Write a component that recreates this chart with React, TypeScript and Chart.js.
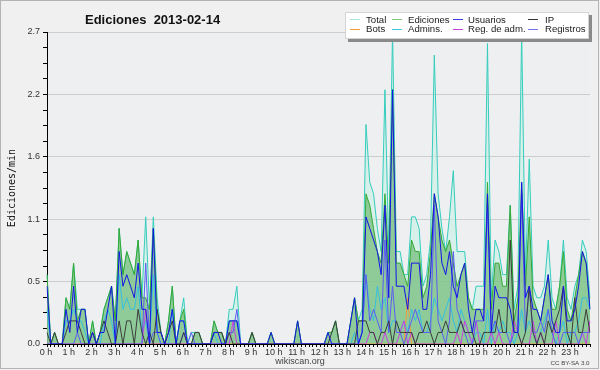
import React, { useEffect, useRef } from 'react';
import { Chart, registerables } from 'chart.js';

Chart.register(...registerables);

const chartTitle = 'Ediciones  2013-02-14';
const yAxisTitle = 'Ediciones/min';
const hourLabels = ['0 h','1 h','2 h','3 h','4 h','5 h','6 h','7 h','8 h','9 h','10 h','11 h','12 h','13 h','14 h','15 h','16 h','17 h','18 h','19 h','20 h','21 h','22 h','23 h'];
const slotMinutes = ['00','10','20','30','40','50'];
const yTickLabels = ['0.0','0.5','1.1','1.6','2.2','2.7'];
const yMax = 2.7;
const seriesNames = ['Total','Ediciones','Usuarios','IP','Bots','Admins.','Reg. de adm.','Registros'];

const total = [
  0.6,0.0,0.1,0.0,0.0,0.4, 0.3,0.7,0.3,0.3,0.3,0.0, 0.2,0.0,0.1,0.3,0.4,0.5, 0.2,1.0,0.6,0.8,0.7,0.6,
  0.9,0.4,1.1,0.3,1.1,0.4, 0.1,0.0,0.2,0.5,0.0,0.2, 0.4,0.0,0.1,0.1,0.1,0.0, 0.0,0.0,0.2,0.1,0.1,0.0,
  0.3,0.3,0.5,0.0,0.0,0.0, 0.1,0.0,0.0,0.0,0.0,0.1, 0.0,0.0,0.0,0.0,0.0,0.0, 0.2,0.0,0.0,0.0,0.0,0.0,
  0.0,0.0,0.1,0.1,0.2,0.0, 0.0,0.0,0.2,0.4,0.2,0.3, 1.9,1.4,1.3,1.0,0.8,2.2, 0.8,2.7,0.8,0.8,0.6,0.6,
  1.1,1.1,1.0,0.5,0.6,0.9, 2.5,1.3,1.0,0.8,1.1,1.5, 0.8,0.8,0.8,0.4,0.3,0.5, 0.5,0.5,2.6,0.4,0.9,0.8,
  0.6,0.6,1.2,0.3,0.5,2.7, 0.6,1.6,0.5,0.4,0.4,0.5, 0.9,0.4,0.3,0.5,0.9,0.4, 0.3,0.5,0.6,0.9,0.8,0.4,
];
const ediciones = [
  0.6,0.0,0.1,0.0,0.0,0.4, 0.3,0.7,0.2,0.3,0.3,0.0, 0.2,0.0,0.1,0.3,0.4,0.5, 0.2,1.0,0.6,0.8,0.7,0.6,
  0.9,0.4,0.4,0.3,1.0,0.3, 0.1,0.0,0.2,0.5,0.0,0.2, 0.3,0.0,0.0,0.1,0.1,0.0, 0.0,0.0,0.2,0.1,0.1,0.0,
  0.2,0.2,0.2,0.0,0.0,0.0, 0.1,0.0,0.0,0.0,0.0,0.1, 0.0,0.0,0.0,0.0,0.0,0.0, 0.2,0.0,0.0,0.0,0.0,0.0,
  0.0,0.0,0.1,0.1,0.2,0.0, 0.0,0.0,0.2,0.4,0.2,0.2, 1.3,1.2,1.0,0.8,0.7,1.3, 0.7,2.2,0.7,0.7,0.6,0.5,
  0.9,0.8,0.8,0.4,0.5,0.8, 1.3,1.1,0.9,0.8,0.9,0.7, 0.5,0.6,0.7,0.4,0.3,0.3, 0.3,0.3,1.4,0.3,0.7,0.7,
  0.5,0.5,1.2,0.2,0.4,1.4, 0.5,1.1,0.4,0.3,0.2,0.4, 0.6,0.3,0.3,0.5,0.8,0.3, 0.2,0.4,0.6,0.8,0.7,0.3,
];
const usuarios = [
  0.5,0.0,0.0,0.0,0.0,0.3, 0.1,0.5,0.1,0.3,0.3,0.0, 0.1,0.0,0.1,0.1,0.3,0.5, 0.0,0.8,0.5,0.6,0.5,0.4,
  0.7,0.3,0.3,0.0,1.0,0.1, 0.1,0.0,0.1,0.3,0.0,0.2, 0.2,0.0,0.0,0.0,0.0,0.0, 0.0,0.0,0.1,0.1,0.0,0.0,
  0.2,0.2,0.2,0.0,0.0,0.0, 0.0,0.0,0.0,0.0,0.0,0.1, 0.0,0.0,0.0,0.0,0.0,0.0, 0.2,0.0,0.0,0.0,0.0,0.0,
  0.0,0.0,0.1,0.0,0.0,0.0, 0.0,0.0,0.2,0.4,0.0,0.1, 1.1,1.0,0.9,0.8,0.6,1.2, 0.4,2.2,0.5,0.5,0.5,0.3,
  0.7,0.7,0.7,0.3,0.3,0.6, 1.3,1.1,0.7,0.6,0.8,0.5, 0.4,0.6,0.7,0.3,0.1,0.3, 0.3,0.2,1.3,0.1,0.5,0.4,
  0.4,0.4,0.3,0.1,0.1,1.4, 0.4,0.5,0.3,0.3,0.2,0.4, 0.6,0.2,0.1,0.1,0.5,0.2, 0.2,0.3,0.5,0.8,0.7,0.3,
];
const ip = [
  0.1,0.0,0.1,0.0,0.0,0.1, 0.2,0.2,0.2,0.1,0.0,0.0, 0.1,0.0,0.1,0.2,0.1,0.0, 0.0,0.2,0.0,0.2,0.2,0.0,
  0.3,0.1,0.0,0.1,0.0,0.3, 0.1,0.0,0.1,0.2,0.0,0.0, 0.1,0.0,0.0,0.1,0.1,0.0, 0.0,0.0,0.1,0.1,0.1,0.0,
  0.1,0.0,0.0,0.0,0.0,0.0, 0.1,0.0,0.0,0.0,0.0,0.0, 0.0,0.0,0.0,0.0,0.0,0.0, 0.0,0.0,0.0,0.0,0.0,0.0,
  0.0,0.0,0.0,0.1,0.2,0.0, 0.0,0.0,0.0,0.0,0.2,0.2, 0.2,0.1,0.1,0.0,0.1,0.1, 0.2,0.0,0.2,0.1,0.1,0.1,
  0.1,0.0,0.1,0.1,0.2,0.1, 0.0,0.1,0.1,0.2,0.1,0.1, 0.1,0.2,0.1,0.1,0.1,0.0, 0.0,0.1,0.1,0.1,0.1,0.3,
  0.1,0.1,0.9,0.1,0.1,0.0, 0.1,0.5,0.1,0.0,0.1,0.0, 0.2,0.1,0.2,0.3,0.5,0.1, 0.0,0.4,0.1,0.1,0.3,0.1,
];
const bots = [
  0,0,0,0,0,0, 0,0,0,0,0,0, 0,0,0,0,0,0, 0,0,0,0,0,0,
  0,0,0,0,0,0, 0,0,0,0,0,0, 0,0,0,0,0,0, 0,0,0,0,0,0,
  0,0,0,0,0,0, 0,0,0,0,0,0, 0,0,0,0,0,0, 0,0,0,0,0,0,
  0,0,0,0,0,0, 0,0,0,0,0,0, 0,0,0,0,0,0, 0,0,0,0,0,0.4,
  0,0,0,0,0,0, 0,0,0,0,0,0, 0,0,0,0,0,0, 0,0,0,0,0,0,
  0,0,0,0,0,0, 0,0,0,0,0,0, 0,0,0,0,0,0, 0,0,0,0,0,0,
];
const admins = [
  0.3,0.0,0.0,0.0,0.0,0.2, 0.2,0.3,0.2,0.2,0.1,0.0, 0.0,0.0,0.0,0.2,0.3,0.2, 0.0,0.6,0.3,0.4,0.3,0.3,
  0.5,0.1,0.2,0.0,0.6,0.1, 0.0,0.0,0.0,0.3,0.0,0.2, 0.2,0.0,0.0,0.0,0.0,0.0, 0.0,0.0,0.1,0.0,0.0,0.0,
  0.2,0.2,0.2,0.0,0.0,0.0, 0.0,0.0,0.0,0.0,0.0,0.0, 0.0,0.0,0.0,0.0,0.0,0.0, 0.0,0.0,0.0,0.0,0.0,0.0,
  0.0,0.0,0.0,0.0,0.0,0.0, 0.0,0.0,0.0,0.1,0.0,0.1, 0.6,0.3,0.2,0.5,0.3,0.4, 0.1,0.2,0.2,0.1,0.2,0.1,
  0.3,0.2,0.3,0.1,0.1,0.2, 0.4,0.3,0.2,0.3,0.4,0.2, 0.1,0.3,0.2,0.1,0.0,0.1, 0.1,0.0,0.3,0.0,0.2,0.1,
  0.2,0.1,0.1,0.0,0.1,0.3, 0.1,0.2,0.1,0.0,0.1,0.2, 0.3,0.1,0.0,0.1,0.2,0.0, 0.1,0.1,0.2,0.4,0.4,0.3,
];
const regAdm = [
  0,0,0,0,0,0, 0,0,0,0,0,0, 0,0,0,0,0,0, 0,0,0,0,0,0,
  0,0,0.3,0,0,0, 0,0,0,0,0,0, 0,0,0,0,0,0, 0,0,0,0,0,0,
  0,0.2,0,0,0,0, 0,0,0,0,0,0, 0,0,0,0,0,0, 0,0,0,0,0,0,
  0,0,0,0,0,0, 0,0,0,0,0,0, 0,0.1,0.1,0,0,0.1, 0,0,0,0.1,0.2,0,
  0.1,0,0,0,0,0, 0,0,0,0,0,0, 0.1,0,0.2,0.1,0,0.2, 0,0,0,0.1,0,0.1,
  0,0,0,0.2,0.1,0, 0,0,0.2,0,0.1,0, 0,0,0.2,0,0,0, 0,0,0,0.1,0,0.2,
];
const registros = [
  0,0,0,0,0,0, 0,0,0.1,0,0,0, 0,0,0,0,0,0, 0,0,0,0,0,0,
  0,0,0.7,0,0.1,0.1, 0,0,0,0,0,0, 0.1,0,0.1,0,0,0, 0,0,0,0,0,0,
  0.1,0.1,0.3,0,0,0, 0,0,0,0,0,0, 0,0,0,0,0,0, 0,0,0,0,0,0,
  0,0,0,0,0,0, 0,0,0,0,0,0.1, 0.6,0.2,0.3,0.2,0.1,0.9, 0.1,0.5,0.1,0.1,0.0,0.1,
  0.2,0.3,0.2,0.1,0.1,0.1, 1.2,0.2,0.1,0.0,0.2,0.8, 0.3,0.2,0.1,0.0,0.0,0.2, 0.2,0.2,1.2,0.1,0.2,0.1,
  0.1,0.1,0.0,0.1,0.1,1.3, 0.1,0.5,0.1,0.1,0.2,0.1, 0.3,0.1,0.0,0.0,0.1,0.1, 0.1,0.1,0.0,0.1,0.1,0.1,
];

const slotLabels = hourLabels.flatMap((h) => slotMinutes.map((m) => h.replace(' h', '') + ':' + m));
const yTickValues = Array.from({ length: 21 }, (_, k) => (k * yMax) / 20);

const SANS = '"Liberation Sans", Arial, sans-serif';

const colors = {
  total: '#35cdbd',
  ediciones: '#35a935',
  usuarios: '#1414e6',
  ip: '#3c3c3c',
  bots: '#f39a3a',
  admins: '#35bfe0',
  regAdm: '#cc40dd',
  registros: '#5c5cf2',
};
const legendColors = ['#a4e6dc', '#7acc7a', '#3a3aee', '#333333', '#f39a3a', '#45c6e2', '#cc40dd', '#7272ee'];

const decorPlugin = {
  id: 'decor',
  beforeDraw(chart: any) {
    const { ctx, chartArea: a, width, height } = chart;
    ctx.save();
    ctx.fillStyle = '#f0f0f0';
    ctx.fillRect(0, 0, width, height);
    ctx.fillStyle = '#edeff1';
    ctx.fillRect(a.left, a.top, a.right - a.left, a.bottom - a.top);
    ctx.strokeStyle = '#b4b4b4';
    ctx.lineWidth = 1;
    ctx.strokeRect(0.5, 0.5, 598, 368);
    ctx.restore();
  },
  afterDraw(chart: any) {
    const { ctx, chartArea: a } = chart;
    ctx.save();
    // title
    ctx.fillStyle = '#111';
    ctx.font = 'bold 13px ' + SANS;
    ctx.textAlign = 'left';
    ctx.textBaseline = 'alphabetic';
    ctx.fillText(chartTitle, 85, 23.5);
    // y title
    ctx.save();
    ctx.translate(15, (a.top + a.bottom) / 2);
    ctx.rotate(-Math.PI / 2);
    ctx.font = '10px "DejaVu Sans Mono", monospace';
    ctx.textAlign = 'center';
    ctx.fillStyle = '#111';
    ctx.fillText(yAxisTitle, 0, 0);
    ctx.restore();
    // legend box
    ctx.fillStyle = '#8a8a8a';
    ctx.fillRect(348, 15, 244, 27);
    ctx.fillStyle = '#ffffff';
    ctx.fillRect(345, 12, 244, 27);
    ctx.strokeStyle = '#d4d4d4';
    ctx.strokeRect(345.5, 12.5, 243, 26);
    const sampleX = [350, 392, 453, 528];
    const textX = [366, 408, 468, 545];
    const rowY = [19, 28.6];
    ctx.font = '9.6px ' + SANS;
    ctx.textBaseline = 'alphabetic';
    seriesNames.forEach((name, k) => {
      const col = k % 4;
      const row = Math.floor(k / 4);
      const y = rowY[row];
      ctx.strokeStyle = legendColors[k];
      ctx.lineWidth = 1;
      ctx.beginPath();
      ctx.moveTo(sampleX[col], Math.round(y) + 0.5);
      ctx.lineTo(sampleX[col] + 10, Math.round(y) + 0.5);
      ctx.stroke();
      ctx.fillStyle = '#222';
      ctx.fillText(name, textX[col], y + 3.6);
    });
    // footer
    ctx.fillStyle = '#444';
    ctx.font = '9px ' + SANS;
    ctx.textAlign = 'center';
    ctx.fillText('wikiscan.org', 300, 364);
    ctx.font = '6.2px ' + SANS;
    ctx.textAlign = 'right';
    ctx.fillText('CC BY-SA 3.0', 589.5, 365);
    ctx.restore();
  },
};

function line(label: string, data: number[], color: string, order: number, extra: any = {}) {
  return {
    label,
    data,
    borderColor: color,
    backgroundColor: color,
    borderWidth: 1,
    pointRadius: 0,
    pointHoverRadius: 0,
    tension: 0,
    fill: false,
    order,
    ...extra,
  };
}

export default function App() {
  const ref = useRef<HTMLCanvasElement | null>(null);

  useEffect(() => {
    document.body.style.margin = '0';
    if (!ref.current) return;
    const chart = new Chart(ref.current, {
      type: 'line',
      data: {
        labels: slotLabels,
        datasets: [
          line(seriesNames[0], total, colors.total, 10, { fill: 'origin', backgroundColor: 'rgba(200,240,228,0.6)' }),
          line(seriesNames[1], ediciones, colors.ediciones, 9, { fill: 'origin', backgroundColor: 'rgba(118,190,128,0.76)' }),
          line(seriesNames[2], usuarios, colors.usuarios, 0),
          line(seriesNames[3], ip, colors.ip, 1),
          line(seriesNames[4], bots, colors.bots, 5),
          line(seriesNames[5], admins, colors.admins, 4),
          line(seriesNames[6], regAdm, colors.regAdm, 3),
          line(seriesNames[7], registros, colors.registros, 2),
        ] as any,
      },
      options: {
        animation: false,
        responsive: false,
        events: [],
        layout: { padding: { top: 32, right: 10, left: 0, bottom: 0 } },
        plugins: {
          legend: { display: false },
          title: { display: false },
          tooltip: { enabled: false },
        },
        scales: {
          x: {
            type: 'category',
            offset: false,
            grid: { drawOnChartArea: false, drawTicks: true, tickLength: 3, tickColor: '#000', offset: false },
            border: { display: true, color: '#000', width: 1 },
            ticks: {
              autoSkip: false,
              maxRotation: 0,
              minRotation: 0,
              padding: 0,
              labelOffset: -1,
              color: '#333',
              font: { size: 9, family: SANS },
              callback: (_v: any, i: number) => (i % 6 === 0 ? hourLabels[i / 6] : ''),
            },
            afterFit: (s: any) => {
              s.height = 26;
            },
          },
          y: {
            type: 'linear',
            min: 0,
            max: yMax,
            afterBuildTicks: (s: any) => {
              s.ticks = yTickValues.map((v) => ({ value: v }));
            },
            grid: {
              color: (c: any) => (c.index % 4 === 0 && c.index > 0 ? '#cdcdcd' : 'rgba(0,0,0,0)'),
              tickColor: '#000',
              tickLength: 4,
              drawTicks: true,
            },
            border: { display: true, color: '#000', width: 1 },
            ticks: {
              autoSkip: false,
              padding: 3,
              color: '#333',
              font: { size: 9, family: SANS },
              callback: (_v: any, i: number) => (i % 4 === 0 ? yTickLabels[i / 4] : ''),
            },
            afterFit: (s: any) => {
              s.width = 47;
            },
          },
        },
      } as any,
      plugins: [decorPlugin],
    });
    return () => chart.destroy();
  }, []);

  return <canvas ref={ref} width={600} height={370} style={{ display: 'block' }} />;
}
